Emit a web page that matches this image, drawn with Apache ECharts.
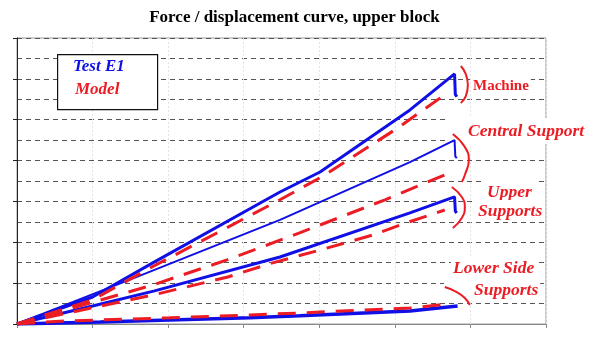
<!DOCTYPE html>
<html>
<head>
<meta charset="utf-8">
<script src="https://cdn.jsdelivr.net/npm/echarts@6/dist/echarts.min.js"></script>
<style>html,body{margin:0;padding:0;background:#fff}#c{width:589px;height:337px}</style>
</head>
<body>
<div id="c"></div>
<script>
// Test E1 curves (displacement, force) in axis units
var machineTest = [[0,0],[1.0,0.66],[1.82,1.52],[3.48,3.23],[4.01,3.72],[5.20,5.24],[5.79,6.12],[5.80,5.62],[5.82,5.56]];
var centralTest = [[0,0],[1.72,1.25],[3.48,2.55],[5.20,3.96],[5.79,4.50],[5.80,4.10],[5.82,4.06]];
var upperTest   = [[0,0],[1.0,0.44],[1.82,0.81],[3.48,1.64],[5.20,2.72],[5.79,3.11],[5.80,2.76],[5.82,2.72]];
var lowerTest   = [[0,0],[1.10,0.05],[2.02,0.10],[3.08,0.15],[3.74,0.20],[5.20,0.32],[5.83,0.44]];
// Model curves
var machineModel = [[0,0],[1.0,0.59],[1.76,1.37],[3.48,3.04],[4.05,3.62],[5.04,4.80],[5.69,5.65]];
var centralModel = [[0,0],[0.79,0.42],[1.79,0.95],[2.78,1.57],[3.74,2.23],[4.87,3.04],[5.66,3.65]];
var upperModel   = [[0,0],[1.0,0.40],[1.80,0.71],[2.79,1.15],[3.37,1.49],[4.01,1.81],[4.71,2.18],[5.11,2.45],[5.66,2.79]];
var lowerModel   = [[0,0],[0.57,0.07],[1.10,0.10],[2.02,0.15],[3.08,0.22],[3.74,0.27],[5.20,0.39],[5.69,0.49]];
// Annotation brackets
var machineBracket = [[5.873,6.314],[5.939,6.118],[5.966,5.849],[5.939,5.580],[5.873,5.409]];
var centralBracket = [[5.767,4.65],[5.926,4.332],[5.979,4.014],[5.926,3.647],[5.886,3.475]];
var upperBracket   = [[5.754,3.353],[5.886,3.108],[5.926,2.863],[5.886,2.594],[5.767,2.349]];
var lowerBracket   = [[5.661,0.906],[5.820,0.783],[5.926,0.636],[5.992,0.465]];
var titleText = 'Force / displacement curve, upper block';
var legendTexts = ['Test E1', 'Model'];
var labels = ['Machine', 'Central Support', 'Upper', 'Supports', 'Lower Side', 'Supports'];

var BLUE = '#0f0fe6', RED = '#ec1c24';
var serif = 'Liberation Serif';
function testSeries(d, w) {
  return {type:'line', data:d, symbol:'none', silent:true, lineStyle:{color:BLUE, width:w}, z:3};
}
function modelSeries(d) {
  return {type:'line', data:d, symbol:'none', silent:true, lineStyle:{color:RED, width:3, type:[18,11]}, z:4};
}
function bracketSeries(d) {
  return {type:'line', data:d, symbol:'none', smooth:0.5, silent:true, lineStyle:{color:RED, width:2}, z:4};
}
function lbl(text, x, y, italic, size, pad) {
  return {type:'text', x:x, y:y, z:2, style:{text:text, fill:RED, font:(italic?'italic ':'')+'bold '+size+'px "'+serif+'"', align:'left', verticalAlign:'middle', backgroundColor:'#fff', padding:pad}};
}
var chart = echarts.init(document.getElementById('c'), null, {renderer:'canvas'});
chart.setOption({
  animation:false,
  backgroundColor:'#fff',
  title:{text:titleText, left:'center', top:4, textStyle:{fontFamily:serif, fontWeight:'bold', fontSize:17, color:'#000'}},
  grid:{left:17, right:43, top:38, bottom:13, show:true, borderColor:'#9a9a9a', borderWidth:1, backgroundColor:'transparent'},
  xAxis:{type:'value', min:0, max:7, interval:1,
    axisLine:{show:true, lineStyle:{color:'#8a8a8a', width:1}},
    axisTick:{show:true, inside:false, length:4, lineStyle:{color:'#8a8a8a'}},
    axisLabel:{show:false},
    splitLine:{show:true, lineStyle:{color:'#e4e4e4', type:[2,2], width:1}}},
  yAxis:{type:'value', min:0, max:7, interval:1,
    axisLine:{show:true, onZero:false, lineStyle:{color:'#222', width:1}},
    axisTick:{show:true, inside:false, length:4, lineStyle:{color:'#222'}},
    axisLabel:{show:false},
    minorTick:{show:false, splitNumber:2},
    splitLine:{show:true, lineStyle:{color:'#555', type:[5,4], width:1}},
    minorSplitLine:{show:true, lineStyle:{color:'#555', type:[5,4], width:1}}},
  series:[
    testSeries(machineTest, 3), testSeries(centralTest, 2), testSeries(upperTest, 3), testSeries(lowerTest, 3.5),
    modelSeries(machineModel), modelSeries(centralModel), modelSeries(upperModel), modelSeries(lowerModel),
    bracketSeries(machineBracket), bracketSeries(centralBracket), bracketSeries(upperBracket), bracketSeries(lowerBracket)
  ],
  graphic:[
    {type:'rect', left:57, top:54, z:100, shape:{width:100, height:55}, style:{fill:'#fff', stroke:'#111', lineWidth:1.2}},
    {type:'text', x:73, y:67, z:101, style:{text:legendTexts[0], fill:BLUE, font:'italic bold 17px "'+serif+'"', align:'left', verticalAlign:'middle'}},
    {type:'text', x:75, y:90, z:101, style:{text:legendTexts[1], fill:RED, font:'italic bold 17px "'+serif+'"', align:'left', verticalAlign:'middle'}},
    lbl(labels[0], 471, 86, false, 15, [1,2,1,2]),
    lbl(labels[1], 448, 131, true, 17.5, [3,2,5,20]),
    lbl(labels[2], 483, 192, true, 17.5, [2,4,2,4]),
    lbl(labels[3], 472, 211, true, 17.5, [2,2,2,6]),
    lbl(labels[4], 451, 268.5, true, 17.5, [5,2,2,2]),
    lbl(labels[5], 444, 290, true, 17.5, [2,2,2,30])
  ]
});
</script>
</body>
</html>
